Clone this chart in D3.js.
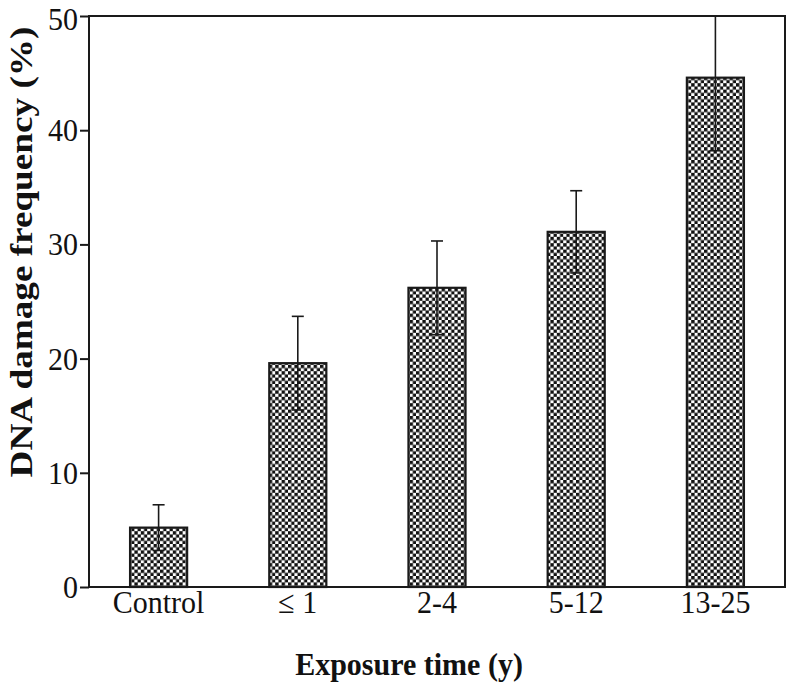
<!DOCTYPE html>
<html><head><meta charset="utf-8">
<script src="https://cdn.jsdelivr.net/npm/d3@7"></script>
<style>body{margin:0;background:#fff}svg{display:block}svg text{font-family:"Liberation Serif","Times New Roman",Times,serif}</style>
</head><body>
<script>
const categories = ["Control", "\u2264 1", "2-4", "5-12", "13-25"];
const values = [5.2, 19.6, 26.2, 31.1, 44.6];
const errors = [2.0, 4.1, 4.1, 3.6, 6.4];
const yTicks = [0, 10, 20, 30, 40, 50];
const xTitle = "Exposure time (y)";
const yTitle = "DNA damage frequency (%)";

const W = 787, H = 686;
const m = {left: 89, right: 2, top: 16, bottom: 99};
const SY = 1.08; // slight vertical stretch of text seen in the reference
const svg = d3.select("body").append("svg").attr("width", W).attr("height", H);

const defs = svg.append("defs");
const pat = defs.append("pattern").attr("id", "chk").attr("patternUnits", "userSpaceOnUse")
  .attr("width", 6.4).attr("height", 6.4);
pat.append("rect").attr("width", 6.4).attr("height", 6.4).attr("fill", "#fff");
pat.append("rect").attr("x", 0).attr("y", 0).attr("width", 3.4).attr("height", 3.4).attr("fill", "#111");
pat.append("rect").attr("x", 3.2).attr("y", 3.2).attr("width", 3.4).attr("height", 3.4).attr("fill", "#111");

const x = d3.scaleBand().domain(categories).range([m.left, W - m.right]).paddingInner(0.59).paddingOuter(0.295);
const y = d3.scaleLinear().domain([0, 50]).range([H - m.bottom, m.top]);

// bars
svg.selectAll("rect.bar").data(values).join("rect").attr("class", "bar")
  .attr("x", (d, i) => x(categories[i])).attr("width", x.bandwidth())
  .attr("y", d => y(d)).attr("height", d => y(0) - y(d))
  .attr("fill", "url(#chk)").attr("stroke", "#1a1a1a").attr("stroke-width", 2.2);

// error bars
const eb = svg.append("g").attr("stroke", "#1a1a1a").attr("stroke-width", 1.6);
values.forEach((v, i) => {
  const cx = x(categories[i]) + x.bandwidth() / 2;
  const hi = Math.min(v + errors[i], 50), lo = v - errors[i];
  eb.append("line").attr("x1", cx).attr("x2", cx).attr("y1", y(hi)).attr("y2", y(lo));
  if (v + errors[i] <= 50) eb.append("line").attr("x1", cx - 6).attr("x2", cx + 6).attr("y1", y(hi)).attr("y2", y(hi));
  eb.append("line").attr("x1", cx - 6).attr("x2", cx + 6).attr("y1", y(lo)).attr("y2", y(lo));
});

// y axis ticks (marks by d3 axis, labels placed from the same scale)
const ya = svg.append("g").attr("transform", `translate(${m.left},0)`)
  .call(d3.axisLeft(y).tickValues(yTicks).tickSize(9).tickFormat(""));
ya.select(".domain").remove();
ya.selectAll("line").attr("stroke", "#1a1a1a").attr("stroke-width", 2);
svg.append("g").selectAll("text").data(yTicks).join("text")
  .attr("transform", d => `translate(${m.left - 11},${Math.max(y(d), 19)}) scale(1,${SY})`)
  .attr("dy", "0.34em").attr("text-anchor", "end").attr("font-size", 30).attr("fill", "#111")
  .text(d => d3.format("d")(d));

// x labels
svg.append("g").selectAll("text").data(categories).join("text")
  .attr("transform", d => `translate(${x(d) + x.bandwidth() / 2},613) scale(1,${SY})`)
  .attr("text-anchor", "middle").attr("font-size", 30).attr("fill", "#111").text(d => d);

// frame
svg.append("rect").attr("x", m.left).attr("y", m.top).attr("width", W - m.right - m.left)
  .attr("height", H - m.bottom - m.top).attr("fill", "none").attr("stroke", "#1a1a1a").attr("stroke-width", 2);

// titles
svg.append("text").attr("transform", `translate(409,675) scale(1,${SY})`).attr("text-anchor", "middle")
  .attr("font-weight", "bold").attr("font-size", 30).attr("fill", "#111").text(xTitle);
svg.append("text").attr("transform", `translate(32,252) rotate(-90) scale(1.2,1)`).attr("text-anchor", "middle")
  .attr("font-weight", "bold").attr("font-size", 31).attr("fill", "#111").text(yTitle);
</script>
</body></html>
